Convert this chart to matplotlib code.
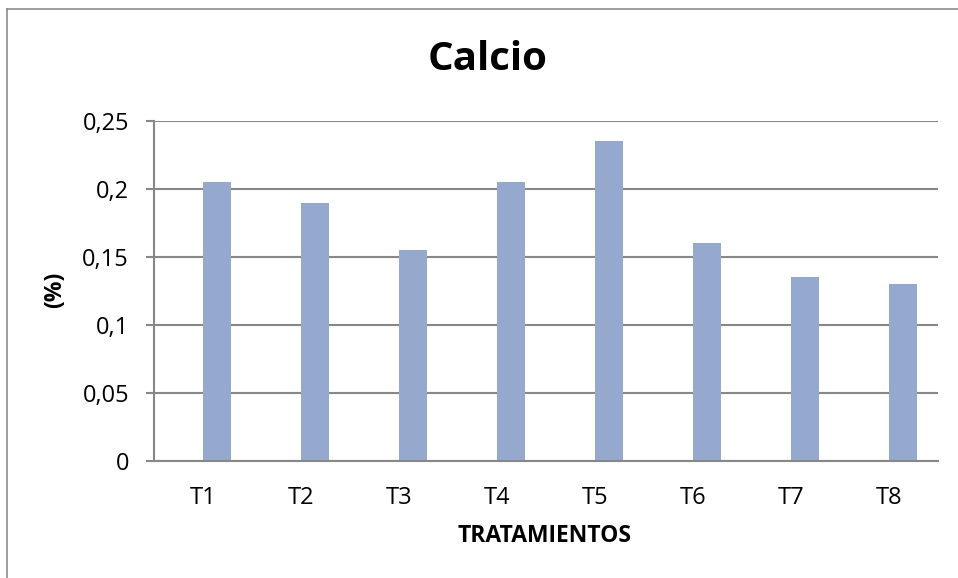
import matplotlib
matplotlib.use("Agg")
import matplotlib.pyplot as plt
from matplotlib.lines import Line2D

# Calcium content per treatment
categories = ["T1", "T2", "T3", "T4", "T5", "T6", "T7", "T8"]
calcio = [0.205, 0.19, 0.155, 0.205, 0.235, 0.16, 0.135, 0.13]
y_ticks = [0, 0.05, 0.10, 0.15, 0.20, 0.25]
y_tick_labels = ["0", "0,05", "0,1", "0,15", "0,2", "0,25"]

plt.rcParams["font.family"] = ["Open Sans", "DejaVu Sans"]

W, H = 958, 578
fig = plt.figure(figsize=(W / 100, H / 100), dpi=100)
fig.patch.set_facecolor("white")

# chart-area border (left and top edges visible)
border = "#8c8c8c"
fig.add_artist(Line2D([7 / W, 7 / W], [0, 1 - 9 / H], color=border, lw=1.2,
                      transform=fig.transFigure))
fig.add_artist(Line2D([7 / W, 1], [1 - 9 / H, 1 - 9 / H], color=border, lw=1.2,
                      transform=fig.transFigure))

ax = fig.add_axes([154 / W, (H - 461) / H, 784 / W, 340 / H])

x = list(range(len(categories)))
# bars sit in the right half of each category slot (second slot of a cluster)
ax.bar(x, calcio, width=0.286, align="edge", color="#95a9cf", zorder=3)

ax.set_xlim(-0.5, len(categories) - 0.5)
ax.set_ylim(0, 0.25)

grid = "#878787"
ax.set_yticks(y_ticks)
ax.set_yticklabels(y_tick_labels, fontsize=17)
ax.yaxis.grid(True, color=grid, lw=1.5, zorder=0)
ax.tick_params(axis="y", length=6, width=1.5, color=grid, pad=12)

ax.set_xticks(x)
ax.set_xticklabels(categories, fontsize=17)
ax.tick_params(axis="x", length=0, pad=18)

for side in ("top", "right"):
    ax.spines[side].set_visible(False)
ax.spines["left"].set_color(grid)
ax.spines["left"].set_linewidth(1.5)
ax.spines["bottom"].set_color(grid)
ax.spines["bottom"].set_linewidth(1.5)
ax.spines["bottom"].set_zorder(4)

fig.text(488 / W, 1 - 59 / H, "Calcio", fontsize=29, fontweight="bold",
         ha="center", va="center")
fig.text(545 / W, 1 - 536 / H, "TRATAMIENTOS", fontsize=16.5, fontweight="bold",
         ha="center", va="center")
fig.text(55 / W, 1 - 290 / H, "(%)", fontsize=16.5, fontweight="bold",
         ha="center", va="center", rotation=90)

fig.savefig("out.png", dpi=100, facecolor="white")
